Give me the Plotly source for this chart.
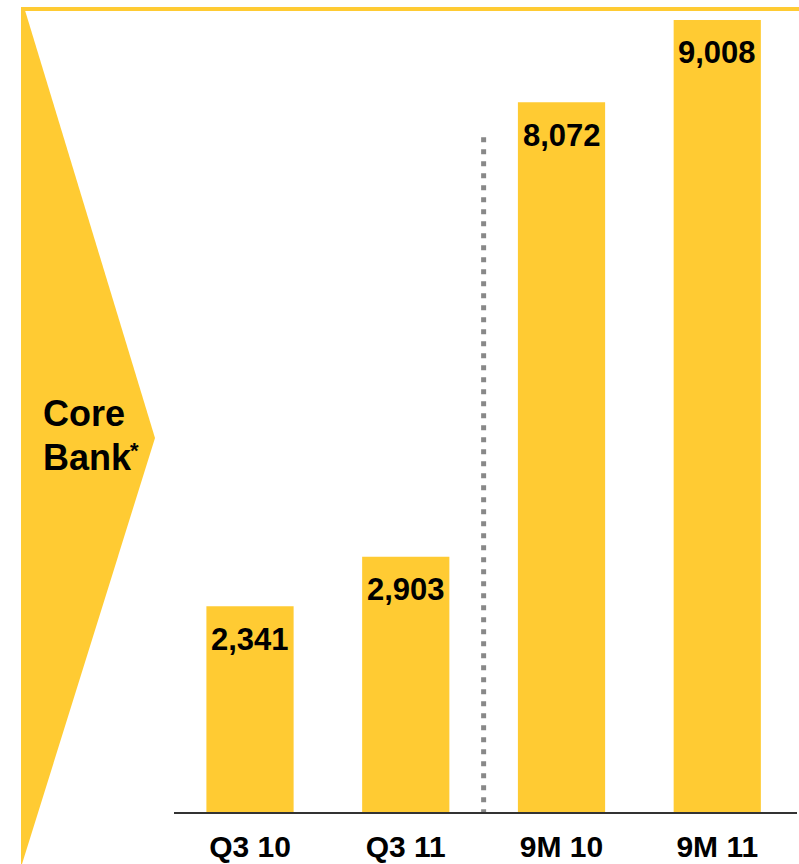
import plotly.graph_objects as go

# Core Bank figures by period
categories = ["Q3 10", "Q3 11", "9M 10", "9M 11"]
values = [2341, 2903, 8072, 9008]

YELLOW = "#FFCB33"
W, H = 799, 864
FONT = "Liberation Sans, Arial"

# plot area in pixels
x_left, x_right = 174, 797
y_top, y_base = 20, 812


def px(x):
    return x / W


def py(y):
    return 1 - y / H


fig = go.Figure()
fig.add_trace(go.Bar(
    x=categories,
    y=values,
    marker=dict(color=YELLOW, line=dict(width=0)),
    width=0.56,
    hoverinfo="skip",
))

# value labels just below the top of each bar
for c, v in zip(categories, values):
    fig.add_annotation(
        x=c, y=v, xref="x", yref="y",
        text=f"<b>{v:,}</b>",
        showarrow=False, yshift=-33, yanchor="middle",
        font=dict(family=FONT, size=31, color="#000000"),
    )

# left chevron panel and top rule
shapes = [
    dict(type="path", xref="paper", yref="paper",
         path=(f"M {px(21)},{py(7)} L {px(24)},{py(7)} L {px(155)},{py(438)} "
               f"L {px(22)},{py(864)} L {px(21)},{py(864)} Z"),
         fillcolor=YELLOW, line=dict(width=0), layer="above"),
    dict(type="rect", xref="paper", yref="paper",
         x0=px(21), x1=px(799), y0=py(11), y1=py(7),
         fillcolor=YELLOW, line=dict(width=0)),
    # separator between quarterly and nine-month figures
    dict(type="line", xref="x", yref="y",
         x0=1.5, x1=1.5, y0=-25, y1=7680,
         line=dict(color="#888888", width=5, dash="5px,7px")),
]

# panel title, one annotation per line
fig.add_annotation(
    xref="paper", yref="paper",
    x=px(41), y=py(413), xanchor="left", yanchor="middle",
    text="<b>Core</b>", showarrow=False,
    font=dict(family=FONT, size=36, color="#000000"),
)
fig.add_annotation(
    xref="paper", yref="paper",
    x=px(41), y=py(457), xanchor="left", yanchor="middle",
    text="<b>Bank</b>", showarrow=False,
    font=dict(family=FONT, size=36, color="#000000"),
)
fig.add_annotation(
    xref="paper", yref="paper",
    x=px(128), y=py(450), xanchor="left", yanchor="middle",
    text="<b>*</b>", showarrow=False,
    font=dict(family=FONT, size=22, color="#000000"),
)

y_max = max(values)

fig.update_layout(
    width=W, height=H,
    margin=dict(l=0, r=0, t=0, b=0, autoexpand=False),
    paper_bgcolor="white", plot_bgcolor="white",
    showlegend=False,
    shapes=shapes,
    xaxis=dict(
        domain=[px(x_left), px(x_right)],
        type="category",
        range=[-0.488, 3.512],
        showgrid=False, zeroline=False,
        showline=True, linecolor="#333333", linewidth=1.5,
        ticks="", ticklabelstandoff=7,
        automargin=False,
        tickfont=dict(family=FONT, size=30, color="#000000", weight="bold"),
        anchor="y",
    ),
    yaxis=dict(
        domain=[py(y_base), py(y_top)],
        range=[0, y_max],
        visible=False, automargin=False,
        showgrid=False, zeroline=False,
    ),
)

fig.write_html("out.html")
